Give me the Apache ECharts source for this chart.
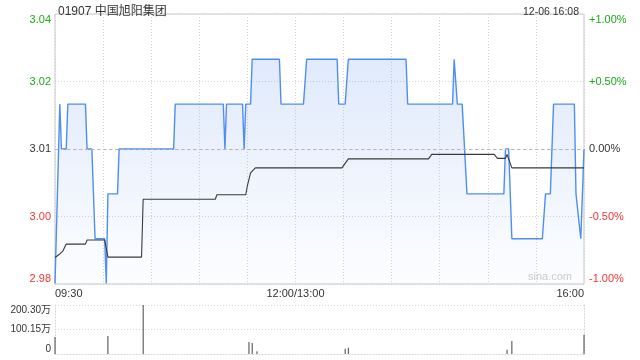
<!DOCTYPE html>
<html>
<head>
<meta charset="utf-8">
<script src="https://cdn.jsdelivr.net/npm/echarts@6/dist/echarts.min.js"></script>
<style>html,body{margin:0;padding:0;background:#fff;}#c{width:640px;height:360px;}</style>
</head>
<body>
<div id="c"></div>
<script>
const stockTitle = '01907 中国旭阳集团';
const dateText = '12-06 16:08';
const prevClose = 3.01;
// price line breakpoints (minutes since 09:30, continuous trading minutes)
const priceMinutes = [0,1,3,4,7,8,19,20,23,25,31,32,33,39,40,74,75,105,106,107,117,118,119,122,123,140,141,155,157,176,177,181,183,219,220,248,249,250,251,254,257,280,281,283,285,304,306,309,311,324,325,326,328,329,330];
const prices       = [2.98,2.98,3.02,3.01,3.01,3.02,3.02,3.01,3.01,2.99,2.99,2.98,3.00,3.00,3.01,3.01,3.02,3.02,3.01,3.02,3.02,3.01,3.02,3.02,3.03,3.03,3.02,3.02,3.03,3.03,3.02,3.02,3.03,3.03,3.02,3.02,3.03,3.03,3.02,3.02,3.00,3.00,3.01,3.01,2.99,2.99,3.00,3.00,3.02,3.02,3.00,3.00,2.99,2.99,3.01];
// average price line breakpoints
const avgMinutes = [0,3,5,7,19,20,31,33,54,55,100,101,119,120,122,125,179,183,233,235,274,276,281,282,285,330];
const avgPrices  = [2.9858,2.9866,2.9873,2.9888,2.9888,2.9897,2.9897,2.9859,2.9859,2.9988,2.9988,2.9998,2.9998,3.0018,3.0047,3.0058,3.0058,3.0078,3.0078,3.0088,3.0088,3.0079,3.0079,3.0088,3.0058,3.0058];
// volume bars
const volMinutes = [0,33,55,121,123,126,181,183,282,285,330];
const volumes    = [695000,736000,2003000,490000,450000,110000,217000,258000,176000,531000,789000];

const leftTickLabels  = ['2.98','3.00','3.01','3.02','3.04'];
const rightTickLabels = ['-1.00%','-0.50%','0.00%','+0.50%','+1.00%'];
const tickColors      = ['#f53333','#f53333','#333333','#1aaa1a','#1aaa1a'];
const timeTickMinutes = [0,150,330];
const timeTickLabels  = ['09:30','12:00/13:00','16:00'];
const volTickLabels   = ['0','100.15万','200.30万'];

const FONT = '"Liberation Sans", Arial, "Noto Sans CJK SC", sans-serif';
const pct = p => (p / prevClose - 1) * 100;
const tickIndex = v => Math.round((Number(v) + 1) / 0.5);

const priceData = priceMinutes.map((m, i) => [m, pct(prices[i])]);
const avgData = avgMinutes.map((m, i) => [m, pct(avgPrices[i])]);
const volData = volMinutes.map((m, i) => [m, volumes[i]]);

const chart = echarts.init(document.getElementById('c'), null, {renderer: 'canvas'});
const dotted = {color: '#d4d4d4', type: [1, 2], width: 1};
chart.setOption({
  animation: false,
  textStyle: {fontFamily: FONT},
  title: [
    {text: stockTitle, left: 53, top: 1, textStyle: {fontSize: 12, fontWeight: 'normal', color: '#333', fontFamily: FONT}},
    {text: dateText, right: 56, top: 2, textStyle: {fontSize: 10.5, fontWeight: 'normal', color: '#333', fontFamily: FONT}}
  ],
  graphic: [{type: 'text', right: 68, top: 271, style: {text: 'sina.com', fill: '#cccccc', font: '11px ' + FONT}}],
  grid: [
    {left: 55, right: 56, top: 14, height: 270, show: true, borderColor: '#c8c8c8', borderWidth: 1},
    {left: 55, right: 56, top: 305, height: 49, show: true, borderColor: '#d8d8d8', borderWidth: 0}
  ],
  xAxis: [
    {type: 'value', gridIndex: 0, min: 0, max: 330, interval: 30,
     axisLine: {show: false}, axisTick: {show: false},
     splitLine: {show: true, lineStyle: dotted},
     axisLabel: {show: true, margin: 4, fontSize: 11, color: '#333', fontFamily: FONT,
       alignMinLabel: 'left', alignMaxLabel: 'right',
       formatter: v => { const k = timeTickMinutes.indexOf(Number(v)); return k >= 0 ? timeTickLabels[k] : ''; }}},
    {type: 'value', gridIndex: 1, min: 0, max: 330, interval: 330,
     axisLine: {show: true, lineStyle: dotted}, axisTick: {show: false},
     splitLine: {show: true, lineStyle: dotted}, axisLabel: {show: false}}
  ],
  yAxis: [
    {type: 'value', gridIndex: 0, min: -1, max: 1, interval: 0.5, position: 'left',
     axisLine: {show: false}, axisTick: {show: false},
     splitLine: {show: true, lineStyle: dotted},
     axisLabel: {margin: 4, fontSize: 11, fontFamily: FONT,
       verticalAlignMinLabel: 'bottom', verticalAlignMaxLabel: 'top',
       color: v => tickColors[tickIndex(v)],
       formatter: v => leftTickLabels[tickIndex(v)]}},
    {type: 'value', gridIndex: 0, min: -1, max: 1, interval: 0.5, position: 'right',
     axisLine: {show: false}, axisTick: {show: false}, splitLine: {show: false},
     axisLabel: {margin: 5, fontSize: 11, fontFamily: FONT,
       verticalAlignMinLabel: 'bottom', verticalAlignMaxLabel: 'top',
       color: v => tickColors[tickIndex(v)],
       formatter: v => rightTickLabels[tickIndex(v)]}},
    {type: 'value', gridIndex: 1, min: 0, max: 2003000, interval: 1001500, position: 'left',
     axisLine: {show: true, lineStyle: dotted}, axisTick: {show: false},
     splitLine: {show: true, lineStyle: dotted},
     axisLabel: {margin: 4, fontSize: 10, color: '#333', fontFamily: FONT,
       verticalAlignMinLabel: 'bottom', verticalAlignMaxLabel: 'top',
       formatter: v => volTickLabels[Math.round(Number(v) / 1001500)]}},
    {type: 'value', gridIndex: 1, min: 0, max: 2003000, interval: 2003000, position: 'right',
     axisLine: {show: true, lineStyle: dotted}, axisTick: {show: false},
     splitLine: {show: false}, axisLabel: {show: false}}
  ],
  series: [
    {type: 'line', xAxisIndex: 0, yAxisIndex: 0, data: priceData, symbol: 'none',
     lineStyle: {color: '#4f8ef0', width: 1.4},
     areaStyle: {origin: 'start', color: new echarts.graphic.LinearGradient(0, 0, 0, 1, [
       {offset: 0, color: 'rgba(70,130,235,0.24)'},
       {offset: 1, color: 'rgba(70,130,235,0.02)'}])},
     markLine: {silent: true, symbol: 'none', label: {show: false},
       lineStyle: {color: '#b8b8b8', type: [3, 3], width: 1},
       data: [{yAxis: 0}]}},
    {type: 'line', xAxisIndex: 0, yAxisIndex: 0, data: avgData, symbol: 'none',
     lineStyle: {color: '#3a3a3a', width: 1.1}},
    {type: 'bar', xAxisIndex: 1, yAxisIndex: 2, data: volData, barWidth: 1,
     itemStyle: {color: '#444'}}
  ]
});
</script>
</body>
</html>
